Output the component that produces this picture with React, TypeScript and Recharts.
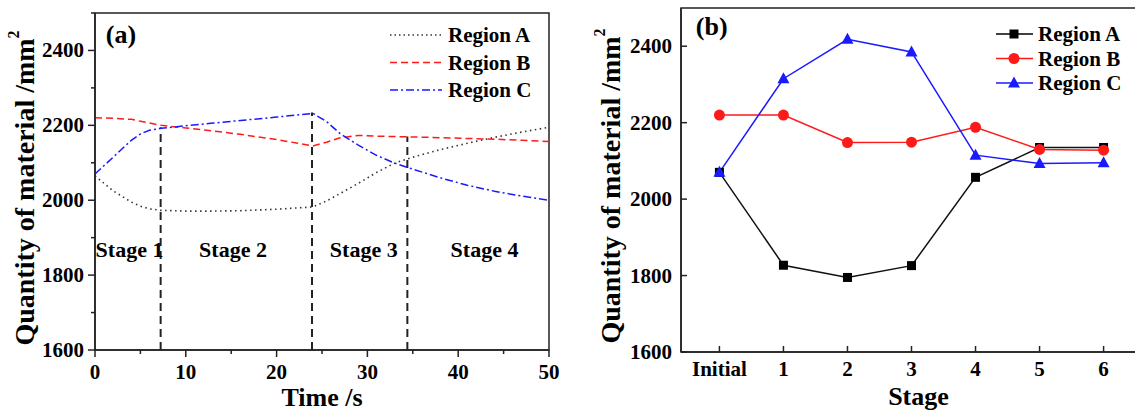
import React from "react";
import {
  LineChart,
  Line,
  XAxis,
  YAxis,
  ReferenceLine,
  ReferenceDot,
  ReferenceArea,
  Label,
} from "recharts";

/* ---------------------------- data: panel (a) ---------------------------- */

const TIME = [0, 2, 4, 5, 6, 7.3, 10, 13, 16, 20, 24, 25.5, 27, 29, 31, 33, 35, 38, 41, 44, 47, 50];
const TIME_A = [2065, 2025, 1995, 1984, 1977, 1973, 1971, 1971, 1972, 1976, 1982, 1998, 2018, 2045, 2074, 2099, 2115, 2135, 2152, 2168, 2182, 2195];
const TIME_B = [2220, 2219, 2216, 2211, 2206, 2200, 2193, 2185, 2176, 2162, 2145, 2155, 2167, 2173, 2171, 2170, 2169, 2167, 2165, 2163, 2160, 2157];
const TIME_C = [2070, 2115, 2160, 2177, 2187, 2192, 2199, 2206, 2213, 2222, 2232, 2210, 2178, 2147, 2120, 2099, 2083, 2060, 2040, 2024, 2011, 2000];

const STAGE_BOUNDS = [7.23, 23.9, 34.4];
const STAGE_BOUND_TOPS = [2195, 2234, 2170];
const STAGE_NAMES = ["Stage 1", "Stage 2", "Stage 3", "Stage 4"];
const STAGE_CENTERS = [3.8, 15.2, 29.6, 42.9];

/* ---------------------------- data: panel (b) ---------------------------- */

const STAGES = ["Initial", "1", "2", "3", "4", "5", "6"];
const STAGE_A = [2070, 1827, 1795, 1826, 2057, 2135, 2135];
const STAGE_B = [2220, 2220, 2148, 2149, 2188, 2130, 2128];
const STAGE_C = [2070, 2315, 2418, 2385, 2115, 2093, 2095];

const SERIES = ["Region A", "Region B", "Region C"];

const timeData = TIME.map((t, i) => ({ t, a: TIME_A[i], b: TIME_B[i], c: TIME_C[i] }));
const stageData = STAGES.map((_, i) => ({ s: i, a: STAGE_A[i], b: STAGE_B[i], c: STAGE_C[i] }));

const FONT = "'Liberation Serif', 'Times New Roman', serif";
const AXIS = "#222";
const RED = "#ff1a1a";
const BLUE = "#1a1aff";
const TICK_FONT = 21;

/* ------------------------------- ticks ----------------------------------- */

function LeftYTick(props: any) {
  const { x, y, payload } = props;
  const v = payload.value as number;
  const major = v % 200 === 0 && v < 2500;
  return (
    <g>
      <line x1={x} x2={x - (major ? 7 : 4)} y1={y} y2={y} stroke={AXIS} strokeWidth={1.5} />
      {major && (
        <text x={x - 11} y={y} textAnchor="end" dominantBaseline="central" fontSize={TICK_FONT} fontWeight="bold" fontFamily={FONT} fill="#000">
          {v}
        </text>
      )}
    </g>
  );
}

function LeftXTick(props: any) {
  const { x, y, payload } = props;
  const v = payload.value as number;
  const major = v % 10 === 0;
  return (
    <g>
      <line x1={x} x2={x} y1={y} y2={y + (major ? 7 : 4)} stroke={AXIS} strokeWidth={1.5} />
      {major && (
        <text x={x} y={y + 22} textAnchor="middle" dominantBaseline="central" fontSize={TICK_FONT} fontWeight="bold" fontFamily={FONT} fill="#000">
          {v}
        </text>
      )}
    </g>
  );
}

function RightYTick(props: any) {
  const { x, y, payload } = props;
  return (
    <g>
      <line x1={x} x2={x + 6} y1={y} y2={y} stroke={AXIS} strokeWidth={1.5} />
      <text x={x - 9} y={y} textAnchor="end" dominantBaseline="central" fontSize={TICK_FONT} fontWeight="bold" fontFamily={FONT} fill="#000">
        {payload.value}
      </text>
    </g>
  );
}

function RightXTick(props: any) {
  const { x, y, payload } = props;
  return (
    <g>
      <line x1={x} x2={x} y1={y} y2={y - 6} stroke={AXIS} strokeWidth={1.5} />
      <text x={x} y={y + 17} textAnchor="middle" dominantBaseline="central" fontSize={TICK_FONT} fontWeight="bold" fontFamily={FONT} fill="#000">
        {STAGES[payload.value]}
      </text>
    </g>
  );
}

/* ------------------------------ titles ----------------------------------- */

function yTitle(cx: number, cy: number) {
  return () => (
    <text
      x={cx}
      y={cy}
      transform={`rotate(-90, ${cx}, ${cy})`}
      textAnchor="middle"
      dominantBaseline="central"
      fontSize={28}
      fontWeight="bold"
      fontFamily={FONT}
      fill="#000"
    >
      Quantity of material /mm
      <tspan dy={-11} fontSize={16}>2</tspan>
    </text>
  );
}

/* ------------------------------ legends ---------------------------------- */

function marker(i: number, cx: number, cy: number, key?: any) {
  if (i === 0) return <rect key={key} x={cx - 4.5} y={cy - 4.5} width={9} height={9} fill="#000" />;
  if (i === 1) return <circle key={key} cx={cx} cy={cy} r={5.5} fill={RED} />;
  return <polygon key={key} points={`${cx},${cy - 6.5} ${cx + 6},${cy + 4.5} ${cx - 6},${cy + 4.5}`} fill={BLUE} />;
}

function LegendA() {
  const styles = [
    { stroke: "#333", dash: "1.5 3" },
    { stroke: RED, dash: "7 4" },
    { stroke: BLUE, dash: "8 3 2 3" },
  ];
  return (
    <svg width={170} height={90} style={{ position: "absolute", left: 380, top: 20 }}>
      {SERIES.map((name, i) => (
        <g key={name}>
          <line x1={10} x2={62} y1={15 + i * 27.5} y2={15 + i * 27.5} stroke={styles[i].stroke} strokeDasharray={styles[i].dash} strokeWidth={1.5} />
          <text x={68} y={15 + i * 27.5} dominantBaseline="central" fontSize={21} fontWeight="bold" fontFamily={FONT} fill="#000">
            {name}
          </text>
        </g>
      ))}
    </svg>
  );
}

function LegendB() {
  const colors = ["#000", RED, BLUE];
  return (
    <svg width={160} height={80} style={{ position: "absolute", left: 990, top: 20 }}>
      {SERIES.map((name, i) => (
        <g key={name}>
          <line x1={6} x2={43} y1={14 + i * 24.5} y2={14 + i * 24.5} stroke={colors[i]} strokeWidth={1.5} />
          {marker(i, 24, 14 + i * 24.5)}
          <text x={48} y={14 + i * 24.5} dominantBaseline="central" fontSize={21} fontWeight="bold" fontFamily={FONT} fill="#000">
            {name}
          </text>
        </g>
      ))}
    </svg>
  );
}

const panelLabel = (text: string) => ({
  value: text,
  position: "center" as const,
  fill: "#000",
  fontSize: 26,
  fontWeight: "bold",
  fontFamily: FONT,
});

/* ------------------------------- charts ---------------------------------- */

function TimeChart() {
  return (
    <LineChart width={570} height={411} data={timeData} margin={{ top: 13, right: 21, bottom: 21, left: 35 }}>
      <XAxis
        dataKey="t"
        type="number"
        domain={[0, 50]}
        ticks={[0, 5, 10, 15, 20, 25, 30, 35, 40, 45, 50]}
        tick={<LeftXTick />}
        tickLine={false}
        tickSize={0}
        tickMargin={0}
        height={40}
        stroke={AXIS}
        strokeWidth={1.5}
        allowDataOverflow
      >
        <Label
          content={(p: any) => (
            <text x={p.viewBox.x + p.viewBox.width / 2} y={397} textAnchor="middle" dominantBaseline="central" fontSize={26} fontWeight="bold" fontFamily={FONT} fill="#000">
              Time /s
            </text>
          )}
        />
      </XAxis>
      <YAxis
        type="number"
        domain={[1600, 2500]}
        ticks={[1600, 1700, 1800, 1900, 2000, 2100, 2200, 2300, 2400, 2500]}
        tick={<LeftYTick />}
        tickLine={false}
        tickSize={0}
        tickMargin={0}
        width={60}
        stroke={AXIS}
        strokeWidth={1.5}
        allowDataOverflow
      >
        <Label content={yTitle(24, 188)} />
      </YAxis>
      <ReferenceArea x1={0} x2={50} y1={1600} y2={2500} fill="none" stroke={AXIS} strokeWidth={1.5} ifOverflow="visible" />
      {STAGE_BOUNDS.map((t, i) => (
        <ReferenceLine
          key={t}
          segment={[
            { x: t, y: 1600 },
            { x: t, y: STAGE_BOUND_TOPS[i] },
          ]}
          stroke="#222"
          strokeWidth={2}
          strokeDasharray="8 5"
        />
      ))}
      {STAGE_NAMES.map((name, i) => (
        <ReferenceDot
          key={name}
          x={STAGE_CENTERS[i]}
          y={1868}
          r={0}
          fill="none"
          stroke="none"
          label={{ value: name, position: "center", fill: "#000", fontSize: 22, fontWeight: "bold", fontFamily: FONT }}
        />
      ))}
      <ReferenceDot x={2.86} y={2445} r={0} fill="none" stroke="none" label={panelLabel("(a)")} />
      <Line dataKey="a" name={SERIES[0]} stroke="#333" strokeWidth={1.6} strokeDasharray="1.5 3.5" dot={false} isAnimationActive={false} />
      <Line dataKey="b" name={SERIES[1]} stroke={RED} strokeWidth={1.5} strokeDasharray="7 4" dot={false} isAnimationActive={false} />
      <Line dataKey="c" name={SERIES[2]} stroke={BLUE} strokeWidth={1.5} strokeDasharray="8 3 2 3" dot={false} isAnimationActive={false} />
    </LineChart>
  );
}

function StageChart() {
  const colors = ["#111", RED, BLUE];
  return (
    <LineChart width={600} height={411} data={stageData} margin={{ top: 8, right: 28, bottom: 19, left: 51 }}>
      <XAxis
        dataKey="s"
        type="number"
        domain={[-0.6, 6.6]}
        ticks={[0, 1, 2, 3, 4, 5, 6]}
        tick={<RightXTick />}
        tickLine={false}
        tickSize={0}
        tickMargin={0}
        height={40}
        stroke={AXIS}
        strokeWidth={1.5}
        allowDataOverflow
      >
        <Label
          content={(p: any) => (
            <text x={p.viewBox.x + p.viewBox.width / 2 + 7} y={396} textAnchor="middle" dominantBaseline="central" fontSize={26} fontWeight="bold" fontFamily={FONT} fill="#000">
              Stage
            </text>
          )}
        />
      </XAxis>
      <YAxis
        type="number"
        domain={[1600, 2500]}
        ticks={[1600, 1800, 2000, 2200, 2400]}
        tick={<RightYTick />}
        tickLine={false}
        tickSize={0}
        tickMargin={0}
        width={60}
        stroke={AXIS}
        strokeWidth={1.5}
        allowDataOverflow
      >
        <Label content={yTitle(40, 186)} />
      </YAxis>
      <ReferenceArea x1={-0.6} x2={6.6} y1={1600} y2={2500} fill="none" stroke={AXIS} strokeWidth={1.5} ifOverflow="visible" />
      <ReferenceDot x={-0.12} y={2454} r={0} fill="none" stroke="none" label={panelLabel("(b)")} />
      {(["a", "b", "c"] as const).map((k, i) => (
        <Line
          key={k}
          dataKey={k}
          name={SERIES[i]}
          stroke={colors[i]}
          strokeWidth={1.5}
          dot={(p: any) => marker(i, p.cx, p.cy, `${k}-${p.index}`)}
          isAnimationActive={false}
        />
      ))}
    </LineChart>
  );
}

export default function App() {
  return (
    <div style={{ position: "absolute", left: 0, top: 0, width: 1135, height: 411, overflow: "hidden", background: "#fff", fontFamily: FONT }}>
      <div style={{ position: "absolute", left: 0, top: 0 }}>
        <TimeChart />
      </div>
      <div style={{ position: "absolute", left: 570, top: 0 }}>
        <StageChart />
      </div>
      <LegendA />
      <LegendB />
    </div>
  );
}
